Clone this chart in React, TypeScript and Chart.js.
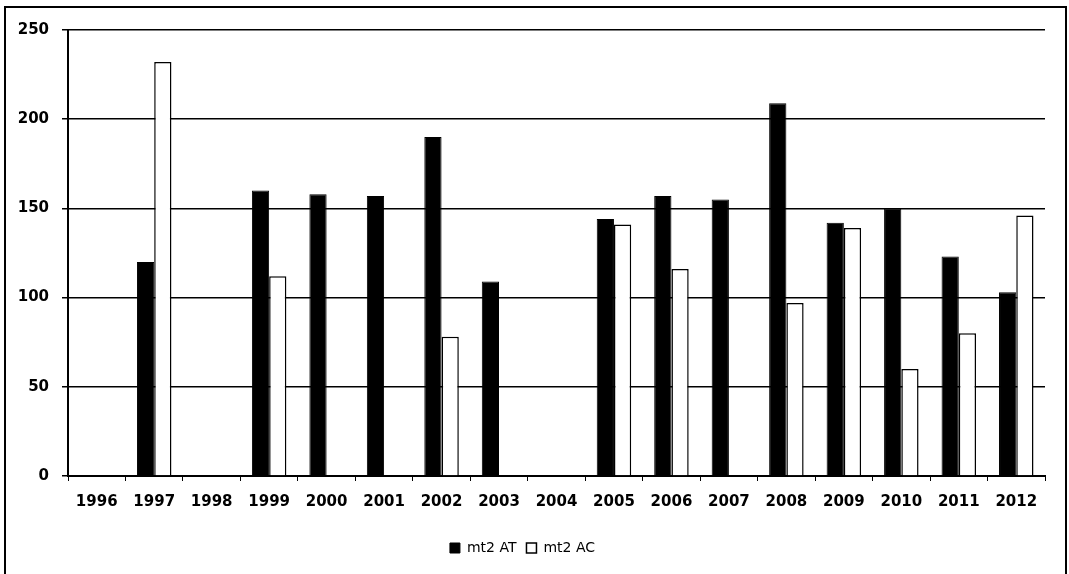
import React, { useEffect, useRef } from "react";
import { Chart, registerables } from "chart.js";

Chart.register(...registerables);

const years = ["1996", "1997", "1998", "1999", "2000", "2001", "2002", "2003", "2004", "2005", "2006", "2007", "2008", "2009", "2010", "2011", "2012"];
const mt2AT = [null, 120, null, 160, 158, 157, 190, 109, null, 144, 157, 155, 209, 142, 150, 123, 103];
const mt2AC = [null, 232, null, 112, null, null, 78, null, null, 141, 116, null, 97, 139, 60, 80, 146];
const yTicks = [0, 50, 100, 150, 200, 250];

const framePlugin = {
  id: "frame",
  afterDraw(chart: any) {
    const ctx = chart.ctx;
    ctx.save();
    ctx.strokeStyle = "#000";
    ctx.lineWidth = 2;
    ctx.strokeRect(5, 7, 1061, 620);
    ctx.restore();
  },
};

export default function App() {
  const ref = useRef<HTMLCanvasElement | null>(null);
  useEffect(() => {
    if (!ref.current) return;
    const chart = new Chart(ref.current, {
      type: "bar",
      data: {
        labels: years,
        datasets: [
          {
            label: "mt2 AT",
            data: mt2AT as any,
            backgroundColor: "#000",
            borderColor: "#000",
            borderWidth: 1,
            categoryPercentage: 0.6,
            barPercentage: 1.0,
          },
          {
            label: "mt2 AC",
            data: mt2AC as any,
            backgroundColor: "#fff",
            borderColor: "#000",
            borderWidth: 1.5,
            categoryPercentage: 0.6,
            barPercentage: 1.0,
          },
        ],
      },
      options: {
        animation: false,
        responsive: false,
        maintainAspectRatio: false,
        layout: { padding: { left: 0, top: 30, right: 24, bottom: 9 } },
        plugins: {
          tooltip: { enabled: false },
          legend: {
            position: "bottom",
            labels: {
              boxWidth: 10,
              boxHeight: 10,
              padding: 10,
              color: "#000",
              font: { family: "DejaVu Sans", size: 14 },
            },
          },
        },
        scales: {
          x: {
            afterFit: (s: any) => {
              s.height = 55;
            },
            grid: {
              display: true,
              offset: true,
              drawOnChartArea: false,
              drawTicks: true,
              tickLength: 5,
              color: "#000",
              lineWidth: 1,
            },
            border: { display: true, color: "#000", width: 2 },
            ticks: {
              color: "#000",
              padding: 12,
              maxRotation: 0,
              autoSkip: false,
              font: { family: "DejaVu Sans", size: 15, weight: "bold" },
            },
          },
          y: {
            min: 0,
            max: 250,
            afterFit: (s: any) => {
              s.width = 68;
            },
            afterBuildTicks: (s: any) => {
              s.ticks = yTicks.map((v) => ({ value: v }));
            },
            grid: {
              color: "#000",
              lineWidth: 1.5,
              drawTicks: true,
              tickLength: 6,
            },
            border: { display: true, color: "#000", width: 2 },
            ticks: {
              color: "#000",
              padding: 13,
              font: { family: "DejaVu Sans", size: 15, weight: "bold" },
            },
          },
        },
      },
      plugins: [framePlugin],
    });
    return () => chart.destroy();
  }, []);
  return (
    <div style={{ position: "fixed", left: 0, top: 0, width: 1069, height: 574, background: "#fff" }}>
      <canvas ref={ref} width={1069} height={574} style={{ width: 1069, height: 574, display: "block" }} />
    </div>
  );
}
